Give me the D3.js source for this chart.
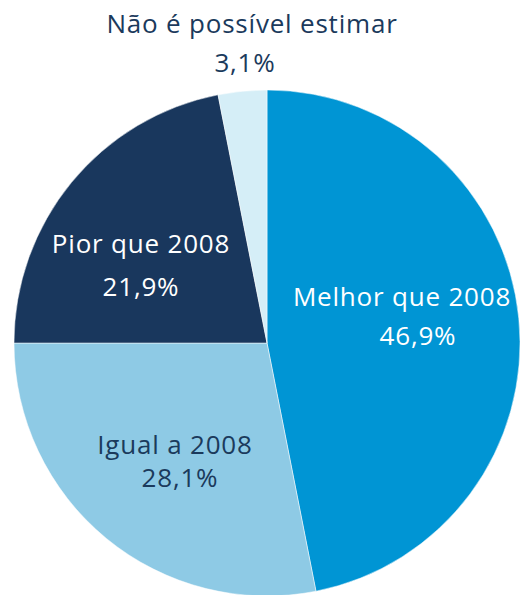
<!DOCTYPE html>
<html>
<head>
<meta charset="utf-8">
<script src="https://cdn.jsdelivr.net/npm/d3@7"></script>
<style>
  html, body { margin: 0; padding: 0; background: #fff; }
  svg { display: block; }
</style>
</head>
<body>
<div id="chart"></div>
<script>
// categories and shares (%), clockwise from 12 o'clock
const categories = ['Melhor que 2008', 'Igual a 2008', 'Pior que 2008', 'Não é possível estimar'];
const values = [46.9, 28.1, 21.9, 3.1];
const valueLabels = ['46,9%', '28,1%', '21,9%', '3,1%'];

const colors = ['#0095d4', '#8ecae5', '#19375d', '#d5eef7'];
const textColors = ['#ffffff', '#1b3a5c', '#ffffff', '#1b3a5c'];
// label anchor points (name line / value line) in page coords
const namePos = [[402, 306], [175, 454], [141, 253], [252, 33]];
const valuePos = [[418, 345], [180, 487], [141, 296], [245, 72]];

const width = 520, height = 595;
const cx = 267, cy = 343, radius = 253;

const svg = d3.select('#chart')
  .append('svg')
  .attr('width', width)
  .attr('height', height);

const pie = d3.pie().sort(null).value(d => d)(values);
const arc = d3.arc().innerRadius(0).outerRadius(radius);

const g = svg.append('g').attr('transform', `translate(${cx},${cy})`);

g.selectAll('path')
  .data(pie)
  .enter()
  .append('path')
  .attr('d', arc)
  .attr('fill', (d, i) => colors[i])
  .attr('stroke', '#ffffff')
  .attr('stroke-width', 0.5);

// labels
const labels = svg.append('g')
  .attr('font-family', '"Open Sans", "DejaVu Sans", sans-serif')
  .attr('font-size', '26px')
  .attr('letter-spacing', '0.8px')
  .attr('text-anchor', 'middle');

categories.forEach((c, i) => {
  labels.append('text')
    .attr('x', namePos[i][0])
    .attr('y', namePos[i][1])
    .attr('fill', textColors[i])
    .text(c);
  labels.append('text')
    .attr('x', valuePos[i][0])
    .attr('y', valuePos[i][1])
    .attr('fill', textColors[i])
    .text(valueLabels[i]);
});
</script>
</body>
</html>
